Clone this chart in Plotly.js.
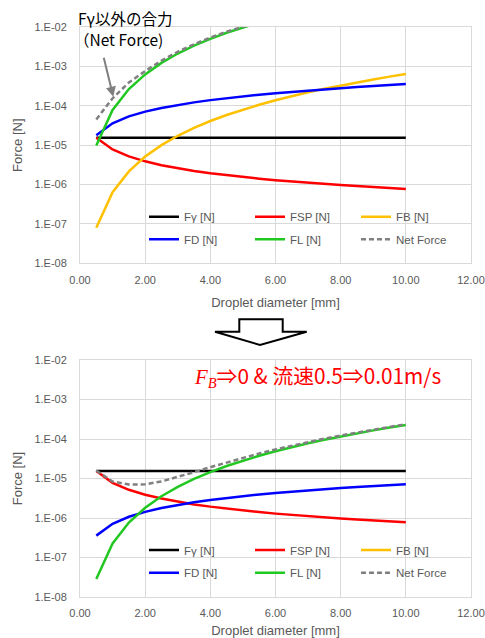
<!DOCTYPE html>
<html><head><meta charset="utf-8">
<script src="https://cdn.plot.ly/plotly-3.0.1.min.js"></script>
<style>html,body{margin:0;padding:0;background:#fff}</style>
</head><body>
<div id="chart" style="width:485px;height:638px"></div>
<script>
// ---- data ----
const diameter = [0.5,1.0,1.5,2.0,2.5,3.0,3.5,4.0,4.5,5.0,5.5,6.0,6.5,7.0,7.5,8.0,8.5,9.0,9.5,10.0];

// top chart (flow 0.5 m/s)
const fGammaTop = [1.55e-5,1.55e-5,1.55e-5,1.55e-5,1.55e-5,1.55e-5,1.55e-5,1.55e-5,1.55e-5,1.55e-5,1.55e-5,1.55e-5,1.55e-5,1.55e-5,1.55e-5,1.55e-5,1.55e-5,1.55e-5,1.55e-5,1.55e-5];
const fspTop = [1.55e-5,7.75e-6,5.17e-6,3.88e-6,3.10e-6,2.58e-6,2.21e-6,1.94e-6,1.72e-6,1.55e-6,1.41e-6,1.29e-6,1.19e-6,1.11e-6,1.03e-6,9.69e-7,9.12e-7,8.61e-7,8.16e-7,7.75e-7];
const fbTop = [8.0e-8,6.4e-7,2.16e-6,5.12e-6,1.0e-5,1.73e-5,2.74e-5,4.10e-5,5.83e-5,8.0e-5,1.065e-4,1.38e-4,1.76e-4,2.20e-4,2.70e-4,3.28e-4,3.93e-4,4.67e-4,5.49e-4,6.4e-4];
const fdTop = [1.79e-5,3.58e-5,5.37e-5,7.1e-5,8.8e-5,1.05e-4,1.22e-4,1.39e-4,1.56e-4,1.74e-4,1.91e-4,2.08e-4,2.25e-4,2.42e-4,2.6e-4,2.78e-4,2.98e-4,3.18e-4,3.38e-4,3.58e-4];
const flTop = [9.8e-6,7.84e-5,2.65e-4,6.27e-4,1.225e-3,2.12e-3,3.36e-3,5.02e-3,7.14e-3,9.8e-3,1.304e-2,1.693e-2,2.153e-2,2.689e-2,3.308e-2,4.014e-2,4.815e-2,5.715e-2,6.722e-2,7.84e-2];
const netTop = [4.5e-5,1.55e-4,3.9e-4,7.6e-4,1.4e-3,2.35e-3,3.65e-3,5.4e-3,7.6e-3,1.03e-2,1.36e-2,1.76e-2,2.22e-2,2.76e-2,3.38e-2,4.09e-2,4.9e-2,5.81e-2,6.83e-2,7.96e-2];

// bottom chart (FB => 0, flow 0.01 m/s)
const fGammaBottom = [1.55e-5,1.55e-5,1.55e-5,1.55e-5,1.55e-5,1.55e-5,1.55e-5,1.55e-5,1.55e-5,1.55e-5,1.55e-5,1.55e-5,1.55e-5,1.55e-5,1.55e-5,1.55e-5,1.55e-5,1.55e-5,1.55e-5,1.55e-5];
const fspBottom = [1.55e-5,7.75e-6,5.17e-6,3.88e-6,3.10e-6,2.58e-6,2.21e-6,1.94e-6,1.72e-6,1.55e-6,1.41e-6,1.29e-6,1.19e-6,1.11e-6,1.03e-6,9.69e-7,9.12e-7,8.61e-7,8.16e-7,7.75e-7];
const fbBottom = [0,0,0,0,0,0,0,0,0,0,0,0,0,0,0,0,0,0,0,0];
const fdBottom = [3.58e-7,7.16e-7,1.074e-6,1.432e-6,1.79e-6,2.148e-6,2.506e-6,2.864e-6,3.222e-6,3.58e-6,3.938e-6,4.296e-6,4.654e-6,5.012e-6,5.37e-6,5.728e-6,6.086e-6,6.444e-6,6.802e-6,7.16e-6];
const flBottom = [2.84e-8,2.27e-7,7.66e-7,1.816e-6,3.547e-6,6.129e-6,9.733e-6,1.453e-5,2.069e-5,2.838e-5,3.777e-5,4.903e-5,6.234e-5,7.786e-5,9.577e-5,1.162e-4,1.394e-4,1.655e-4,1.946e-4,2.27e-4];
const netBottom = [1.589e-5,8.4e-6,7.01e-6,7.128e-6,8.437e-6,1.086e-5,1.445e-5,1.933e-5,2.563e-5,3.351e-5,4.312e-5,5.462e-5,6.818e-5,8.398e-5,1.022e-4,1.229e-4,1.464e-4,1.728e-4,2.022e-4,2.349e-4];

const seriesNames = ['Fγ [N]','FSP [N]','FB [N]','FD [N]','FL [N]','Net Force'];
const xTickVals = [0,2,4,6,8,10,12];
const yTickVals = [1e-8,1e-7,1e-6,1e-5,1e-4,1e-3,1e-2];
const yTickText = ['1.E-08','1.E-07','1.E-06','1.E-05','1.E-04','1.E-03','1.E-02'];

// ---- styling ----
const colors = ['#000000','#ff0000','#ffc000','#0000ff','#22c822','#808080'];
const FONT = 'Liberation Sans, Arial, sans-serif';
const JP = 'Noto Sans CJK JP, sans-serif';
const GRAY = '#595959';
const GRID = '#d9d9d9';

const W = 485, H = 638;
const M = {l:80, r:14, t:27, b:41, autoexpand:false};
const PW = W - M.l - M.r, PH = H - M.t - M.b;
const PX = x => (x - M.l) / PW;
const PY = y => (H - M.b - y) / PH;

function mk(y, i, xa, ya, leg){
  return {x: diameter, y: y, name: seriesNames[i], type:'scatter', mode:'lines',
    xaxis: xa, yaxis: ya, legend: leg, hoverinfo:'skip',
    line:{color: colors[i], width: 2.5, dash: i===5 ? '5px,3px' : 'solid'}};
}

const traces = [
  mk(fGammaTop,0,'x','y','legend'), mk(fspTop,1,'x','y','legend'), mk(fbTop,2,'x','y','legend'),
  mk(fdTop,3,'x','y','legend2'), mk(flTop,4,'x','y','legend2'), mk(netTop,5,'x','y','legend2'),
  mk(fGammaBottom,0,'x2','y2','legend3'), mk(fspBottom,1,'x2','y2','legend3'), mk(fbBottom,2,'x2','y2','legend3'),
  mk(fdBottom,3,'x2','y2','legend4'), mk(flBottom,4,'x2','y2','legend4'), mk(netBottom,5,'x2','y2','legend4')
];

function xAxis(anchor){
  return {domain:[0,1], anchor: anchor, range:[0,12], tickvals: xTickVals, tickformat:'.2f',
    showgrid:true, gridcolor:GRID, gridwidth:1, zeroline:false, showline:true, linecolor:GRID, linewidth:1, mirror:true,
    ticks:'', ticklabelstandoff:6, tickfont:{family:FONT, size:11, color:GRAY},
    title:{text:'Droplet diameter [mm]', font:{family:FONT, size:13, color:GRAY}, standoff:13}};
}
function yAxis(anchor, dom){
  return {domain: dom, anchor: anchor, type:'log', range:[-8,-2], tickvals: yTickVals, ticktext: yTickText,
    showgrid:true, gridcolor:GRID, gridwidth:1, zeroline:false, showline:true, linecolor:GRID, linewidth:1, mirror:true,
    ticks:'', ticklabelstandoff:10, tickfont:{family:FONT, size:11, color:GRAY},
    title:{text:'Force [N]', font:{family:FONT, size:13, color:GRAY}, standoff:8}};
}
function leg(y){
  return {orientation:'h', x: PX(144), xanchor:'left', y: PY(y), yanchor:'middle',
    bgcolor:'rgba(0,0,0,0)', font:{family:FONT, size:11.5, color:GRAY},
    entrywidth:61, entrywidthmode:'pixels', itemwidth:30, itemclick:false, itemdoubleclick:false};
}

const layout = {
  width:W, height:H, margin:M, paper_bgcolor:'#fff', plot_bgcolor:'#fff', showlegend:true,
  font:{family:FONT, color:GRAY},
  xaxis: xAxis('y'), yaxis: yAxis('x', [PY(263.3), 1]),
  xaxis2: xAxis('y2'), yaxis2: yAxis('x2', [0, PY(360)]),
  legend: leg(216.7), legend2: leg(239.3), legend3: leg(550), legend4: leg(572.7),
  shapes:[{type:'path', xref:'paper', yref:'paper',
    path: 'M'+PX(239.3)+','+PY(319.3)+' L'+PX(282.7)+','+PY(319.3)+' L'+PX(282.7)+','+PY(331.7)+
          ' L'+PX(306.7)+','+PY(331.7)+' L'+PX(260)+','+PY(345)+' L'+PX(215)+','+PY(331.7)+
          ' L'+PX(239.3)+','+PY(331.7)+' Z',
    line:{color:'#000', width:2}, fillcolor:'#fff'}],
  annotations:[
    {xref:'paper', yref:'paper', x:PX(76), y:PY(18), xanchor:'left', yanchor:'middle', showarrow:false,
     text:'Fγ以外の合力', font:{family:JP, size:15.5, color:'#000'}},
    {xref:'paper', yref:'paper', x:PX(72), y:PY(39), xanchor:'left', yanchor:'middle', showarrow:false,
     text:'（Net Force)', font:{family:JP, size:15.5, color:'#000'}},
    {xref:'paper', yref:'paper', x:PX(113.3), y:PY(96.7), ax:-11.6, ay:-47.4, axref:'pixel', ayref:'pixel',
     text:' ', showarrow:true, arrowhead:2, arrowsize:1, arrowwidth:2, arrowcolor:'#7f7f7f'},
    {xref:'paper', yref:'paper', x:PX(192), y:PY(375), xanchor:'left', yanchor:'middle', showarrow:false,
     text:'<span style="font-family:Liberation Serif, serif"><i>F</i><sub><i>B</i></sub></span>⇒0 &amp; 流速0.5⇒0.01m/s',
     font:{family:JP, size:20.8, color:'#ff0000'}}
  ]
};

Plotly.newPlot('chart', traces, layout, {displayModeBar:false, staticPlot:true});
</script>
</body></html>
